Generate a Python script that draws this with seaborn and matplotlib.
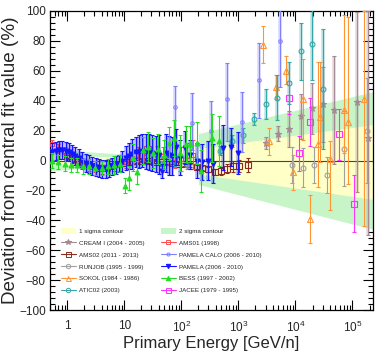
import matplotlib
matplotlib.use("Agg")
import matplotlib.pyplot as plt
import seaborn as sns
from matplotlib.lines import Line2D
from matplotlib.patches import Patch
from matplotlib.ticker import MultipleLocator, FixedLocator, LogLocator, NullFormatter

sns.set_style("ticks")
plt.rcParams['font.family'] = ['Liberation Sans', 'DejaVu Sans']
plt.rcParams['mathtext.default'] = 'regular'

# ---- contour bands ----
band_low_E = [0.5, 1, 2, 5, 10, 20, 50, 100, 200]
s2_low_up = [8, 7, 6, 5, 4, 3.5, 3, 3, 3]
s2_low_dn = [-7, -6, -5, -4, -3.5, -3, -3, -3, -3]
s1_low_up = [4, 3.5, 3, 2.5, 2, 1.5, 1.5, 1.5, 1.5]
s1_low_dn = [-3.5, -3, -2.5, -2, -2, -1.5, -1.5, -1.5, -1.5]
band_high_E = [200, 230000]
s2_high_up = [18, 46]
s2_high_dn = [-16, -46]
s1_high_up = [8, 24]
s1_high_dn = [-9, -26]

# ---- data sets (energy, deviation %, error down, error up) ----
cream_E = [3100, 5000, 7800, 12800, 19800, 31000, 48000, 122000, 190000]
cream_y = [11.4, 18, 21, 29.5, 35, 37.6, 33.6, 39, 15]
cream_dn = [4, 5, 12, 15, 17, 25, 36, 60, 65]
cream_up = [4, 5, 12, 15, 17, 25, 36, 60, 85]

ams02_E = [1.0, 1.3, 1.7, 2.2, 2.8, 3.6, 4.6, 5.9, 7.6, 9.7, 12.4, 16, 20, 26, 33, 42,
           54, 69, 88, 113, 145, 185, 235, 300, 385, 490, 630, 800, 1030, 1450]
ams02_y = [3, 1, -1, -3, -4, -5, -5, -4, -2.5, -1.5, -1, -0.5, -0.3, -0.5, -0.8, -1,
           -1.2, -1.5, -2, -2.5, -3.4, -4.2, -5, -6, -7.5, -7, -5.5, -4, -3.5, -3]
ams02_err = [1, 1, 1, 1, 1, 1, 1, 1, 1, 1, 1, 1, 1, 1, 1, 1,
             1, 1, 1, 1, 1, 1.2, 1.5, 1.8, 2, 2.5, 3, 3.5, 4, 5]

runjob_E = [8850, 13700, 21600, 36500, 72000, 180000]
runjob_y = [-2.7, -4.7, -2.7, -9.4, 8, 20]
runjob_err = [12, 13, 12, 12, 25, 35]

sokol_E = [2750, 3500, 4500, 6900, 9200, 13700, 17700, 25000, 27500, 41000, 72000, 85000, 160000]
sokol_y = [77, 13, 49, 60, -8, 41, -39, 11, 29, 1, 34, 26, 41]
sokol_dn = [12, 9, 8, 9, 12, 27, 16, 29, 30, 34, 29, 42, 85]
sokol_up = [13, 9, 8, 10, 12, 27, 16, 55, 37, 12, 63, 70, 59]

atic_E = [46, 75, 127, 480, 780, 1220, 1900, 3100, 4800, 7600, 12300, 19600, 31000]
atic_y = [-2, -2.7, -2.7, 6.5, 13, 17, 28, 38, 42, 52, 73, 78, 47.6]
atic_err = [1.5, 1.5, 1.5, 3, 4, 5, 4, 10, 15, 14, 19, 24, 40]

ams01_E = [0.55, 0.7, 0.9, 1.15, 1.5, 1.9, 2.4, 3.1, 4, 5.1, 6.5, 8.4, 10.7, 13.7,
           17.5, 22, 29, 37, 47, 60, 77, 98, 125, 160]
ams01_y = [11, 8, 6, 3, 0, -2, -4, -5, -6, -6, -4, -3, -1, 2, 4, 5, 5, 4, 3, 4, 2, 1, 3, 4]
ams01_err = [3, 3, 3, 3, 3, 3, 3, 3, 3, 3, 3, 4, 4, 4, 5, 5, 5, 6, 6, 7, 7, 8, 9, 10]

calo_E = [78, 156, 336, 640, 1175, 2330, 5300]
calo_y = [35.6, 24.8, 20, 41, 25.5, 53.7, 80]
calo_dn = [24, 18, 20, 28, 20, 25, 31]
calo_up = [14, 20, 20, 24, 20, 25, 30]

pamela_E = [0.55, 0.63, 0.72, 0.82, 0.94, 1.07, 1.22, 1.4, 1.6, 1.83, 2.1, 2.4, 2.75, 3.15,
            3.6, 4.1, 4.7, 5.4, 6.2, 7.1, 8.1, 9.3, 10.6, 12.1, 13.9, 15.9, 18.2, 20.8,
            23.8, 27.2, 31, 35.5, 40.6, 46.4, 53, 61, 70, 80, 95, 117, 144, 190, 232,
            300, 365, 545, 750, 1000]
pamela_y = [5.5, 6.5, 7, 7, 6.5, 5.5, 4.5, 3, 1.5, 0, -1.5, -2.5, -3.5, -4.5,
            -5, -5.5, -5.5, -5, -4, -3, -2, -0.5, 1.5, 3, 4.5, 5.5, 6, 6.5,
            6, 5.5, 5, 4.5, 4, -7, 5, 3.5, 3, 9, 2, 8.5, 4, 0, -1,
            0, -2, 8.5, 9, 5]
pamela_err = [6, 6, 6, 6, 6, 6, 6, 6, 6, 6, 6, 6, 6, 6,
              6, 6, 6, 6, 6, 6, 6, 7, 8, 9, 10, 10, 11, 11,
              12, 12, 12, 12, 13, 5, 13, 13, 13, 12, 12, 11, 10, 12, 12,
              13, 13, 15, 13, 14]

bess_E = [0.55, 0.7, 0.9, 1.15, 1.5, 1.9, 2.4, 3.1, 4, 5.1, 6.5, 8.4, 10.5, 12, 14,
          17, 21, 26, 32, 39, 49, 61, 76, 95, 120, 144, 190, 225, 350, 460]
bess_y = [0, -1, -2, -3, -3, -4, -4, -5, -5, -4, -3, -2, -17, -12, 2,
          -8, 7, 9, 5, 8, 4, 11.4, 15, 5, 11, 11, 12, -7, 15, 13]
bess_err = [5, 5, 5, 5, 5, 5, 5, 5, 5, 5, 6, 6, 5, 8, 9,
            8, 9, 10, 10, 10, 10, 11, 12, 12, 12, 12, 14, 14, 16, 17]

jacee_E = [7800, 11700, 18300, 57000, 108000]
jacee_y = [42, 4.7, 26, 17.4, -29]
jacee_err = [11, 12, 16, 17, 19]

fig = plt.figure(figsize=(3.86, 3.52), dpi=100)
ax = fig.add_axes([0.1295, 0.119, 0.837, 0.85])

# bands
ax.fill_between(band_low_E, s2_low_dn, s2_low_up, color='#c8f5c8', lw=0, zorder=1)
ax.fill_between(band_low_E, s1_low_dn, s1_low_up, color='#ffffc8', lw=0, zorder=1.1)
ax.fill_between(band_high_E, s2_high_dn, s2_high_up, color='#c8f5c8', lw=0, zorder=1)
ax.fill_between(band_high_E, s1_high_dn, s1_high_up, color='#ffffc8', lw=0, zorder=1.1)
ax.axhline(0, color='#444444', lw=0.8, zorder=2)

series = [
    # name, E, y, dn, up, color, marker, open, size, sys-shade
    ('CREAM I (2004 - 2005)', cream_E, cream_y, cream_dn, cream_up, '#a58a94', '*', False, 4.5, True),
    ('AMS02 (2011 - 2013)', ams02_E, ams02_y, ams02_err, ams02_err, '#8c2a1c', 's', True, 4, False),
    ('RUNJOB (1995 - 1999)', runjob_E, runjob_y, runjob_err, runjob_err, '#a0a0a0', 'o', True, 3.5, False),
    ('SOKOL (1984 - 1986)', sokol_E, sokol_y, sokol_dn, sokol_up, '#ff9433', '^', True, 4, False),
    ('ATIC02 (2003)', atic_E, atic_y, atic_err, atic_err, '#33a8a8', 'o', True, 3.5, True),
    ('AMS01 (1998)', ams01_E, ams01_y, ams01_err, ams01_err, '#ff5050', 's', True, 3.5, False),
    ('PAMELA CALO (2006 - 2010)', calo_E, calo_y, calo_dn, calo_up, '#8080ff', 'o', True, 2.5, True),
    ('PAMELA (2006 - 2010)', pamela_E, pamela_y, pamela_err, pamela_err, '#1414ff', 'v', False, 3.5, True),
    ('BESS (1997 - 2002)', bess_E, bess_y, bess_err, bess_err, '#22dd22', '^', False, 3.5, False),
    ('JACEE (1979 - 1995)', jacee_E, jacee_y, jacee_err, jacee_err, '#ff33ff', 's', True, 4, False),
]

z = 3
for name, E, y, dn, up, c, m, op, ms, sys_shade in series:
    if sys_shade:
        ax.errorbar(E, y, yerr=[dn, up], fmt='none', ecolor=c, elinewidth=2.6,
                    alpha=0.3, zorder=z)
    ax.errorbar(E, y, yerr=[dn, up], fmt=m, color=c, mec=c,
                mfc='none' if op else c, ms=ms, mew=0.8, elinewidth=0.8,
                capsize=1.2, capthick=0.6, lw=0, zorder=z + 0.1)
    z += 0.2

ax.set_xscale('log')
ax.set_xlim(0.5, 230000)
ax.set_ylim(-100, 100)

ax.xaxis.set_major_locator(FixedLocator([1, 10, 100, 1000, 1e4, 1e5]))
ax.set_xticklabels(['1', '10', '$10^2$', '$10^3$', '$10^4$', '$10^5$'])
ax.xaxis.set_minor_locator(LogLocator(base=10, subs=range(2, 10), numticks=20))
ax.xaxis.set_minor_formatter(NullFormatter())
ax.yaxis.set_major_locator(MultipleLocator(20))
ax.yaxis.set_minor_locator(MultipleLocator(4))
ax.tick_params(which='both', direction='in', top=True, right=True, labelsize=8.5,
               width=0.8, color='black')
ax.tick_params(axis='x', which='major', pad=7)
ax.tick_params(axis='y', which='major', pad=3)
ax.tick_params(which='major', length=7)
ax.tick_params(which='minor', length=3.5)
for sp in ax.spines.values():
    sp.set_linewidth(0.9)
    sp.set_color('black')

ax.set_xlabel('Primary Energy [GeV/n]', fontsize=12, labelpad=1)
ax.set_ylabel('Deviation from central fit value (%)', fontsize=13.6, labelpad=0)

# legend
def handle(c, m, op, ms):
    return Line2D([0], [0], color=c, marker=m, mec=c, mfc='none' if op else c,
                  ms=ms * 0.9, mew=0.7, lw=0.8)

col1 = [Patch(facecolor='#ffffc8', edgecolor='none')]
col2 = [Patch(facecolor='#c8f5c8', edgecolor='none')]
lab1 = ['1 sigma contour']
lab2 = ['2 sigma contour']
for i, s in enumerate(series):
    h = handle(s[5], s[6], s[7], s[8])
    if i < 5:
        col1.append(h)
        lab1.append(s[0])
    else:
        col2.append(h)
        lab2.append(s[0])

leg = ax.legend(col1 + col2, lab1 + lab2, ncol=2, loc='upper left',
                bbox_to_anchor=(0.025, 0.283), frameon=False, fontsize=4.5,
                handlelength=2.4, handleheight=1.0, labelspacing=0.95,
                columnspacing=2.6, handletextpad=0.5, borderaxespad=0)

fig.savefig('out.png', dpi=100)
